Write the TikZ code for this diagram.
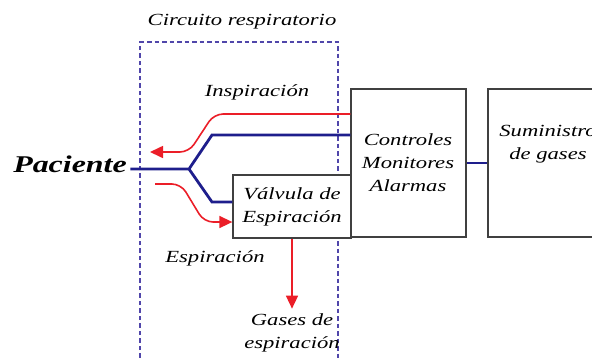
\documentclass[tikz,border=0pt]{standalone}
\usepackage{fontspec}
\setmainfont{Liberation Serif}[FakeStretch=1.33]
\usetikzlibrary{arrows.meta}
\definecolor{navy}{RGB}{30,30,140}
\definecolor{flowred}{RGB}{235,30,40}
\definecolor{circuit}{RGB}{80,70,170}

\begin{document}
\begin{tikzpicture}[x=1pt, y=-1pt,
	lbl/.style={font=\fontsize{17}{23}\selectfont\itshape, align=center, inner sep=0pt},
	box/.style={draw=black!75, line width=1.3pt, fill=white},
	gasline/.style={draw=navy, line width=2.8pt},
	flow/.style={draw=flowred, line width=1.6pt, rounded corners=9pt, -{Triangle[length=13pt,width=12pt]}}]
				\useasboundingbox (0,0) rectangle (592,360);
				% circuito respiratorio
				\draw[circuit, line width=2.6pt, dash pattern=on 4.5pt off 3pt] (140,365) -- (140,42) -- (338,42) -- (338,365);
				\node[lbl] (circ) at (242,22) {Circuito respiratorio};
				% bloques
				\node[box, lbl, minimum width=118pt, minimum height=63pt] (valve) at (292,206.5) {V\'alvula de\\Espiraci\'on};
				\node[box, minimum width=115pt, minimum height=148pt] (ctrl) at (408.5,163) {};
				\node[lbl] (ctrltxt) at (408,163) {Controles\\Monitores\\Alarmas};
				\node[box, minimum width=115pt, minimum height=148pt] (sum) at (545.5,163) {};
				\node[lbl] (sumtxt) at (548,144.5) {Suministro\\de gases};
				\node[font=\fontsize{24}{28}\selectfont\bfseries\itshape] (pac) at (70,164) {Paciente};
				\coordinate (fork) at (189,169);
				\coordinate (pacin) at (150,152);
				\coordinate (pacout) at (155,184);
				% lineas de gas
				\draw[gasline] (pac.east |- fork) -- (fork) -- (212,135) -- (ctrl.west |- 0,135);
				\draw[gasline] (fork) -- (212,202) -- (valve.west |- 0,202);
				\draw[gasline] (ctrl.east) -- (sum.west);
				% flujos
				\draw[flow] (ctrl.west |- 0,114) -- (214,114) -- (189,152) -- (pacin);
				\draw[flow] (pacout) -- (181,184) -- (204,222) -- (valve.west |- 0,222);
				\draw[flow] (valve.south) -- ++(0,70);
				\node[lbl] (insp) at (257,92) {Inspiraci\'on};
				\node[lbl] (esp) at (215,258) {Espiraci\'on};
				\node[lbl] (gases) at (292,333) {Gases de\\espiraci\'on};
			\end{tikzpicture}
\end{document}
